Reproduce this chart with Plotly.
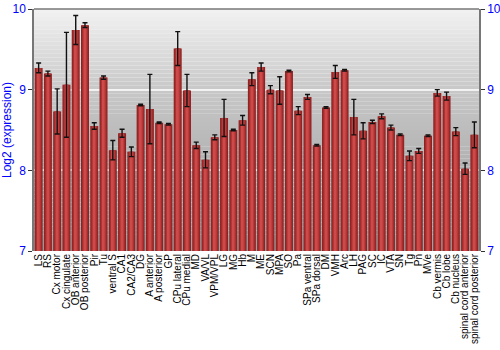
import plotly.graph_objects as go

categories = ["LS", "RS", "Cx motor", "Cx cingulate", "OB anterior", "OB posterior", "Pir", "Tu",
              "ventral S", "CA1", "CA2/CA3", "DG", "A anterior", "A posterior", "GP", "CPu lateral",
              "CPu medial", "MD", "VA/VL", "VPM/VPL", "LG", "MG", "Hb", "M", "ME", "SCN", "MPA", "SO",
              "Pa", "SPa ventral", "SPa dorsal", "DM", "VMH", "Arc", "LH", "PAG", "SC", "IC", "VTA",
              "SN", "Tg", "Pn", "MVe", "Cb vermis", "Cb lobe", "Cb nucleus", "spinal cord anterior",
              "spinal cord posterior"]
values = [9.27, 9.20, 8.73, 9.06, 9.74, 9.80, 8.55, 9.15,
          8.25, 8.46, 8.23, 8.81, 8.76, 8.59, 8.57, 9.51,
          8.99, 8.31, 8.13, 8.41, 8.65, 8.50, 8.62, 9.13, 9.28, 9.00, 8.99, 9.23,
          8.74, 8.91, 8.31, 8.78, 9.22, 9.24, 8.66, 8.49, 8.60, 8.67, 8.53,
          8.44, 8.18, 8.24, 8.43, 8.96, 8.92, 8.48, 8.02,
          8.44]
errors = [0.06, 0.03, 0.28, 0.65, 0.18, 0.03, 0.04, 0.02,
          0.12, 0.05, 0.06, 0.01, 0.43, 0.01, 0.01, 0.21,
          0.20, 0.04, 0.10, 0.03, 0.23, 0.01, 0.06, 0.08, 0.05, 0.05, 0.17, 0.01,
          0.05, 0.03, 0.01, 0.01, 0.08, 0.01, 0.22, 0.10, 0.02, 0.03, 0.03,
          0.01, 0.06, 0.03, 0.01, 0.04, 0.05, 0.05, 0.07,
          0.16]
y_ticks = [7, 8, 9, 10]

BLUE = "#0000ff"
FONT = "Liberation Sans, Arial, sans-serif"

fig = go.Figure()

# layered bars to fake the cylinder gradient
layers = [(0.86, "#8a2222"), (0.66, "#a52c2c"), (0.42, "#bf3c3c"), (0.18, "#cc4a4a")]
for i, (w, c) in enumerate(layers):
    fig.add_trace(go.Bar(
        x=categories, y=[v - 7 for v in values], base=7, width=w,
        marker=dict(color=c, line=dict(width=0)),
        error_y=dict(type="data", array=errors, color="#111111", thickness=1.4, width=2.5,
                     visible=(i == len(layers) - 1)),
        hoverinfo="skip", showlegend=False,
    ))

# invisible trace to show the right axis
fig.add_trace(go.Scatter(x=[categories[0]], y=[7], yaxis="y2", mode="markers",
                         marker=dict(opacity=0), showlegend=False, hoverinfo="skip"))

# background gradient
def lerp(a, b, t):
    return a + (b - a) * t
stops = [(7.0, 160), (8.0, 176), (9.0, 200), (10.0, 242)]
shapes = []
n = 60
for k in range(n):
    y0 = 7 + 3 * k / n
    y1 = 7 + 3 * (k + 1) / n
    ym = (y0 + y1) / 2
    for j in range(len(stops) - 1):
        if stops[j][0] <= ym <= stops[j + 1][0]:
            t = (ym - stops[j][0]) / (stops[j + 1][0] - stops[j][0])
            g = int(round(lerp(stops[j][1], stops[j + 1][1], t)))
            break
    shapes.append(dict(type="rect", xref="paper", yref="y", x0=0, x1=1, y0=y0, y1=y1,
                       fillcolor=f"rgb({g},{g},{g})", line=dict(width=0), layer="below"))
shapes.append(dict(type="line", xref="paper", yref="paper", x0=0, x1=1, y0=1, y1=1,
                   line=dict(color="#777777", width=1.5)))

fig.update_layout(
    width=500, height=350,
    margin=dict(l=34, r=21, t=9, b=99),
    paper_bgcolor="white", plot_bgcolor="rgba(0,0,0,0)",
    barmode="overlay",
    shapes=shapes,
    font=dict(family=FONT, size=12, color="black"),
    xaxis=dict(tickangle=-90, tickfont=dict(size=10, color="black", family=FONT),
               tickmode="array", tickvals=categories, ticktext=categories,
               automargin=False,
               showgrid=False, showline=False, ticks="", range=[-0.5, len(categories) - 0.5]),
    yaxis=dict(range=[7, 10], tickvals=y_ticks, tickfont=dict(color=BLUE, size=12),
               automargin=False,
               showline=True, linecolor="#777777", linewidth=1.5,
               ticks="outside", ticklen=4, tickcolor="#333333",
               showgrid=True, gridcolor="rgba(255,255,255,0.75)", gridwidth=1.5,
               zeroline=False,
               title=dict(text="Log2 (expression)", font=dict(color=BLUE, size=12), standoff=4)),
    yaxis2=dict(range=[7, 10], tickvals=y_ticks, overlaying="y", side="right",
                automargin=False,
                tickfont=dict(color=BLUE, size=12),
                showline=True, linecolor="#777777", linewidth=1.5,
                ticks="outside", ticklen=4, tickcolor="#333333",
                showgrid=False, zeroline=False),
)

fig.write_html("out.html")
